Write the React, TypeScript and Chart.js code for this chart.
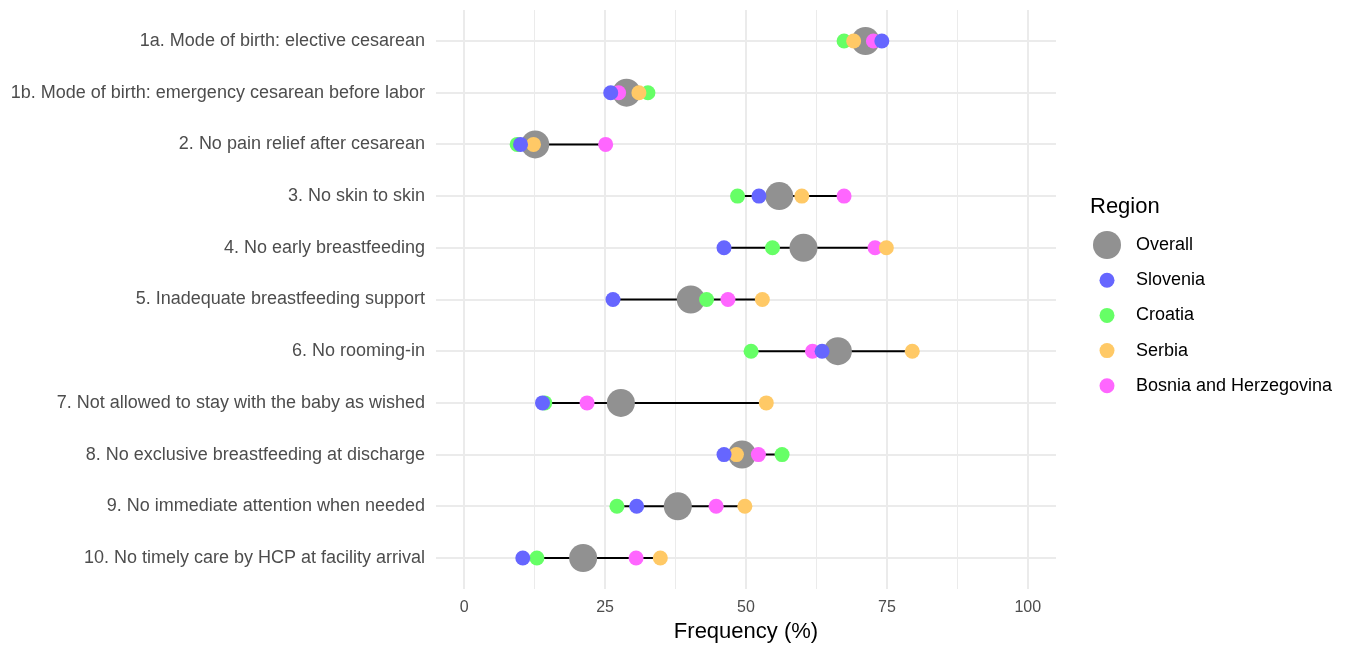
import React, { useEffect, useRef } from "react";
import { Chart, registerables } from "chart.js";

Chart.register(...registerables);

const categories: string[] = [
  "1a. Mode of birth: elective cesarean",
  "1b. Mode of birth: emergency cesarean before labor",
  "2. No pain relief after cesarean",
  "3. No skin to skin",
  "4. No early breastfeeding",
  "5. Inadequate breastfeeding support",
  "6. No rooming-in",
  "7. Not allowed to stay with the baby as wished",
  "8. No exclusive breastfeeding at discharge",
  "9. No immediate attention when needed",
  "10. No timely care by HCP at facility arrival",
];

const overall: number[] = [71.2, 28.8, 12.6, 55.9, 60.2, 40.2, 66.3, 27.8, 49.3, 37.9, 21.1];
const slovenia: number[] = [74.1, 26.0, 10.0, 52.3, 46.1, 26.4, 63.5, 13.9, 46.1, 30.6, 10.4];
const croatia: number[] = [67.4, 32.6, 9.4, 48.5, 54.7, 43.0, 50.9, 14.3, 56.4, 27.1, 12.9];
const serbia: number[] = [69.1, 31.0, 12.3, 59.9, 74.9, 52.9, 79.5, 53.6, 48.3, 49.8, 34.8];
const bosnia: number[] = [72.6, 27.4, 25.1, 67.4, 72.9, 46.8, 61.8, 21.8, 52.2, 44.7, 30.5];

const xTickValues: number[] = [0, 12.5, 25, 37.5, 50, 62.5, 75, 87.5, 100];

const regionNames: string[] = ["Overall", "Slovenia", "Croatia", "Serbia", "Bosnia and Herzegovina"];
const regionColors: string[] = ["#919191", "#6666FF", "#66FF66", "#FFC966", "#FF66FF"];
const regionRadius: number[] = [14, 7.5, 7.5, 7.5, 7.5];
const regionOrder: number[] = [4, 0, 2, 1, 3];

const FONT = "'Liberation Sans', Arial, sans-serif";

export default function App() {
  const ref = useRef<HTMLCanvasElement | null>(null);

  useEffect(() => {
    if (!ref.current) return;
    const series = [overall, slovenia, croatia, serbia, bosnia];

    const lineSets = categories.map((_, i) => {
      const vals = series.map((s) => s[i]);
      return {
        type: "scatter" as const,
        label: "_seg" + i,
        data: [
          { x: Math.min(...vals), y: i },
          { x: Math.max(...vals), y: i },
        ],
        showLine: true,
        borderColor: "#000000",
        borderWidth: 2,
        pointRadius: 0,
        pointHoverRadius: 0,
        order: 10,
      };
    });

    const pointSets = series.map((s, k) => ({
      type: "scatter" as const,
      label: regionNames[k],
      data: s.map((v, i) => ({ x: v, y: i })),
      backgroundColor: regionColors[k],
      borderColor: regionColors[k],
      borderWidth: 0,
      pointRadius: regionRadius[k],
      pointHoverRadius: regionRadius[k],
      order: regionOrder[k],
    }));

    const legendPlugin = {
      id: "regionLegend",
      afterDraw(chart: any) {
        const ctx = chart.ctx;
        ctx.save();
        ctx.fillStyle = "#000000";
        ctx.textBaseline = "middle";
        ctx.textAlign = "left";
        ctx.font = `22px ${FONT}`;
        ctx.fillText("Region", 1090, 207);
        ctx.font = `18px ${FONT}`;
        regionNames.forEach((name, k) => {
          const y = 245 + k * 35.2;
          ctx.beginPath();
          ctx.fillStyle = regionColors[k];
          ctx.arc(1107, y, k === 0 ? 14 : 7.5, 0, Math.PI * 2);
          ctx.fill();
          ctx.fillStyle = "#000000";
          ctx.fillText(name, 1136, y);
        });
        ctx.restore();
      },
    };

    const chart = new Chart(ref.current, {
      type: "scatter",
      data: { datasets: [...pointSets, ...lineSets] as any },
      options: {
        animation: false,
        responsive: false,
        maintainAspectRatio: false,
        layout: { autoPadding: false, padding: { top: 10, right: 291, left: 0, bottom: 0 } },
        plugins: {
          legend: { display: false },
          tooltip: { enabled: false },
        },
        scales: {
          x: {
            type: "linear",
            min: -5,
            max: 105,
            afterBuildTicks: (scale: any) => {
              scale.ticks = xTickValues.map((v) => ({ value: v }));
            },
            afterFit: (scale: any) => {
              scale.height = 57;
              scale.paddingLeft = 0;
              scale.paddingRight = 0;
            },
            ticks: {
              autoSkip: false,
              maxRotation: 0,
              padding: 9,
              color: "#4D4D4D",
              font: { family: FONT, size: 16 },
              callback: (v: any) => (Number(v) % 25 === 0 ? String(v) : ""),
            },
            grid: {
              color: "#EBEBEB",
              lineWidth: (c: any) => (c.tick && c.tick.value % 25 === 0 ? 2 : 1),
              drawTicks: false,
            },
            border: { display: false },
            title: {
              display: true,
              text: "Frequency (%)",
              color: "#000000",
              font: { family: FONT, size: 22 },
              padding: { top: 0, bottom: 1 },
            },
          },
          y: {
            type: "linear",
            min: -0.6,
            max: 10.6,
            reverse: true,
            afterBuildTicks: (scale: any) => {
              scale.ticks = categories.map((_, i) => ({ value: i }));
            },
            afterFit: (scale: any) => {
              scale.width = 436;
              scale.paddingTop = 0;
              scale.paddingBottom = 0;
            },
            ticks: {
              autoSkip: false,
              padding: 11,
              color: "#4D4D4D",
              font: { family: FONT, size: 18 },
              callback: (v: any) => categories[Number(v)] ?? "",
            },
            grid: {
              color: "#EBEBEB",
              lineWidth: 2,
              drawTicks: false,
            },
            border: { display: false },
          },
        },
      },
      plugins: [legendPlugin],
    });

    return () => chart.destroy();
  }, []);

  return (
    <div style={{ position: "fixed", left: 0, top: 0, width: 1347, height: 646, background: "#ffffff" }}>
      <canvas ref={ref} width={1347} height={646} style={{ width: 1347, height: 646, display: "block" }} />
    </div>
  );
}
